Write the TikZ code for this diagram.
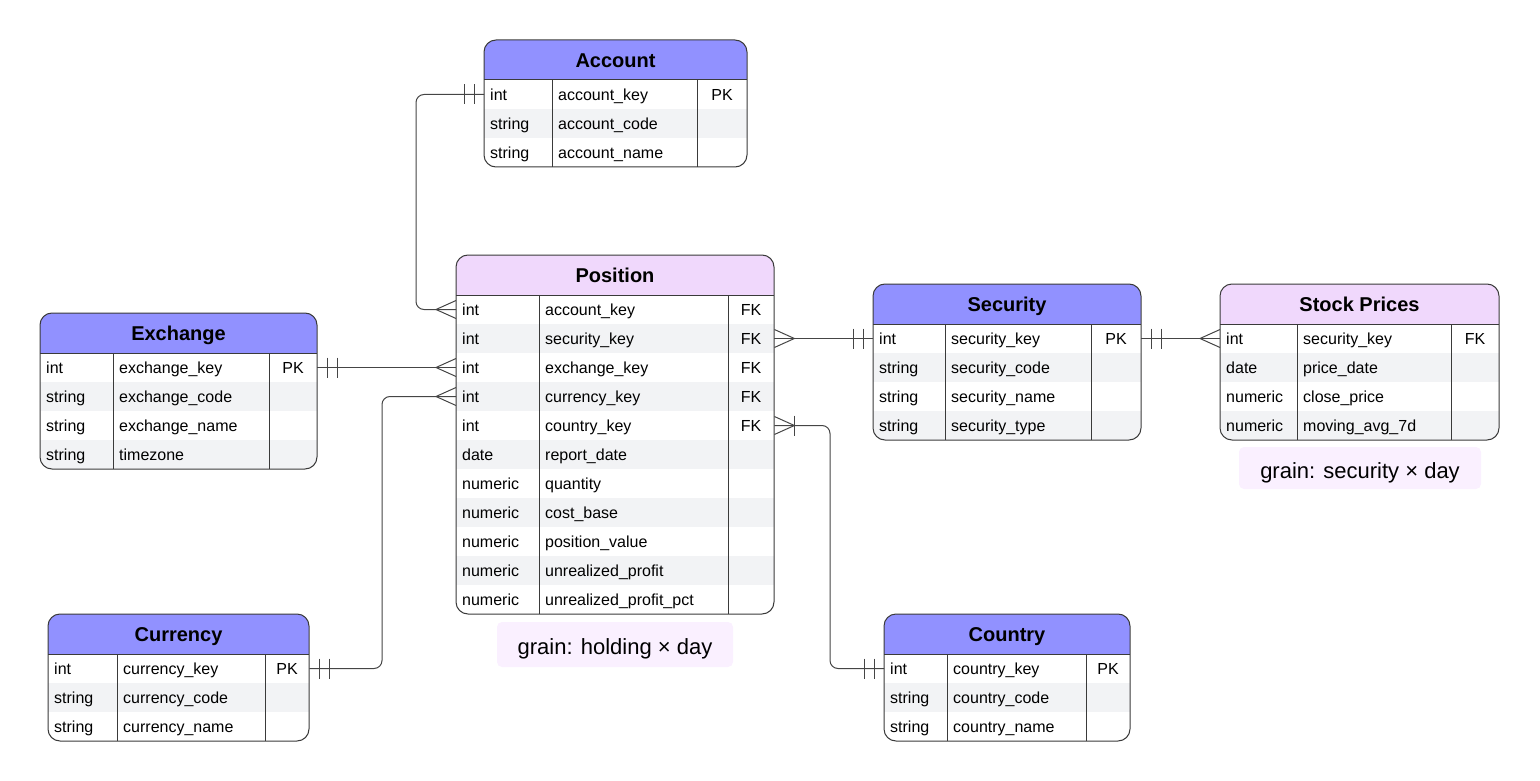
\documentclass[tikz,border=0pt]{standalone}
\usepackage{fontspec}
\setmainfont{Liberation Sans}
\usetikzlibrary{calc}

\definecolor{hdrblue}{HTML}{9191FF}
\definecolor{hdrpink}{HTML}{F0D8FC}
\definecolor{rowalt}{HTML}{F2F3F5}
\definecolor{grainbg}{HTML}{FAF0FF}
\definecolor{edgec}{HTML}{3A3A3A}
\definecolor{linkc}{HTML}{454545}

\tikzset{
  tblborder/.style={draw=edgec, line width=1pt},
  rowbox/.style={anchor=west, inner sep=0pt, minimum height=29pt, draw=none},
  celltext/.style={inner sep=0pt, text height=13pt, text depth=1pt, font=\fontsize{16}{19}\selectfont},
  tbltitle/.style={inner sep=0pt, text height=15pt, text depth=1pt, font=\fontsize{20}{24}\selectfont\bfseries},
  link/.style={draw=linkc, line width=1pt},
  grainlabel/.style={fill=grainbg, rounded corners=5pt, inner sep=0pt, text height=20pt, text depth=0pt, font=\fontsize{22}{26}\selectfont},
}

% \ertable{name}{x}{y}{width}{col1}{col2}{title}{header colour}{type/field/key,...}
\newcommand{\ertable}[9]{%
  \foreach \r [count=\i] in {#9} {\xdef\ernrows{\i}}%
  \pgfmathsetmacro\erh{40+29*\ernrows}%
  \begin{scope}
    \clip[rounded corners=12pt] (#2,#3) rectangle ++(#4,\erh);
    \fill[#8] (#2,#3) rectangle ++(#4,40);
    \foreach \ta/\nb/\kc [count=\i] in {#9} {
      \pgfmathsetmacro\ry{#3+40+29*(\i-1)+14.5}
      \ifodd\i\relax\def\rf{white}\else\def\rf{rowalt}\fi
      \node[rowbox, fill=\rf, minimum width=#4pt] (#1-\i) at (#2,\ry) {};
      \node[celltext, anchor=west] (#1-\i-t) at (#2+6,\ry) {\ta};
      \node[celltext, anchor=west] (#1-\i-n) at (#2+#5+6,\ry) {\nb};
      \node[celltext] (#1-\i-k) at (#2+#6/2+#4/2,\ry) {\kc};
    }
  \end{scope}
  \draw[tblborder] (#2,#3+40) -- ++(#4,0);
  \draw[tblborder] (#2+#5,#3+40) -- ++(0,29*\ernrows);
  \draw[tblborder] (#2+#6,#3+40) -- ++(0,29*\ernrows);
  \draw[tblborder, rounded corners=12pt] (#2,#3) rectangle ++(#4,\erh);
  \node[tbltitle] (#1) at (#2+#4/2,#3+20.5) {#7};
}

% crow's foot (many) at an anchor, opening outwards on side #2 (-1 left, 1 right)
\newcommand{\crowfoot}[2]{%
  \draw[link] ($(#1)+(0,9)$) -- ($(#1)+(#2*20,0)$) -- ($(#1)+(0,-9)$);}
% single bar at distance #3 from the anchor
\newcommand{\onebar}[3]{%
  \draw[link] ($(#1)+(#2*#3,-10)$) -- ($(#1)+(#2*#3,10)$);}
% one and only one
\newcommand{\barpair}[2]{\onebar{#1}{#2}{10}\onebar{#1}{#2}{20}}

\begin{document}
\begin{tikzpicture}[x=1pt, y=-1pt]
\useasboundingbox (0,0) rectangle (1540,781);

\ertable{acc}{484}{40}{263}{68}{213}{Account}{hdrblue}{
  int/account\_key/PK, string/account\_code/, string/account\_name/}

\ertable{pos}{456}{255}{318}{83}{272}{Position}{hdrpink}{
  int/account\_key/FK, int/security\_key/FK, int/exchange\_key/FK,
  int/currency\_key/FK, int/country\_key/FK, date/report\_date/,
  numeric/quantity/, numeric/cost\_base/, numeric/position\_value/,
  numeric/unrealized\_profit/, numeric/unrealized\_profit\_pct/}

\ertable{exc}{40}{313}{277}{73}{229}{Exchange}{hdrblue}{
  int/exchange\_key/PK, string/exchange\_code/, string/exchange\_name/,
  string/timezone/}

\ertable{cur}{48}{614}{261}{69}{217}{Currency}{hdrblue}{
  int/currency\_key/PK, string/currency\_code/, string/currency\_name/}

\ertable{sec}{873}{284}{268}{72}{218}{Security}{hdrblue}{
  int/security\_key/PK, string/security\_code/, string/security\_name/,
  string/security\_type/}

\ertable{stk}{1220}{284}{279}{77}{231}{Stock Prices}{hdrpink}{
  int/security\_key/FK, date/price\_date/, numeric/close\_price/,
  numeric/moving\_avg\_7d/}

\ertable{cou}{884}{614}{246}{63}{202}{Country}{hdrblue}{
  int/country\_key/PK, string/country\_code/, string/country\_name/}

% grain notes
\node[grainlabel, minimum width=236pt, minimum height=45pt] (posgrain) at (615,644.5) {grain: holding × day};
\node[grainlabel, minimum width=242pt, minimum height=42pt] (stkgrain) at (1360,468) {grain: security × day};

% relationships
\draw[link, rounded corners=8pt] (acc-1.west) -| ([xshift=-40pt]pos-1.west) -- (pos-1.west);
\barpair{acc-1.west}{-1}
\crowfoot{pos-1.west}{-1}

\draw[link] (exc-1.east) -- (pos-3.west);
\barpair{exc-1.east}{1}
\crowfoot{pos-3.west}{-1}

\draw[link, rounded corners=8pt] (cur-1.east) -| ([xshift=-74pt]pos-4.west) -- (pos-4.west);
\barpair{cur-1.east}{1}
\crowfoot{pos-4.west}{-1}

\draw[link] (pos-2.east) -- (sec-1.west);
\crowfoot{pos-2.east}{1}
\barpair{sec-1.west}{-1}

\draw[link] (sec-1.east) -- (stk-1.west);
\barpair{sec-1.east}{1}
\crowfoot{stk-1.west}{-1}

\draw[link, rounded corners=8pt] (pos-5.east) -| ([xshift=-54pt]cou-1.west) -- (cou-1.west);
\crowfoot{pos-5.east}{1}
\onebar{pos-5.east}{1}{20}
\barpair{cou-1.west}{-1}
\end{tikzpicture}
\end{document}
